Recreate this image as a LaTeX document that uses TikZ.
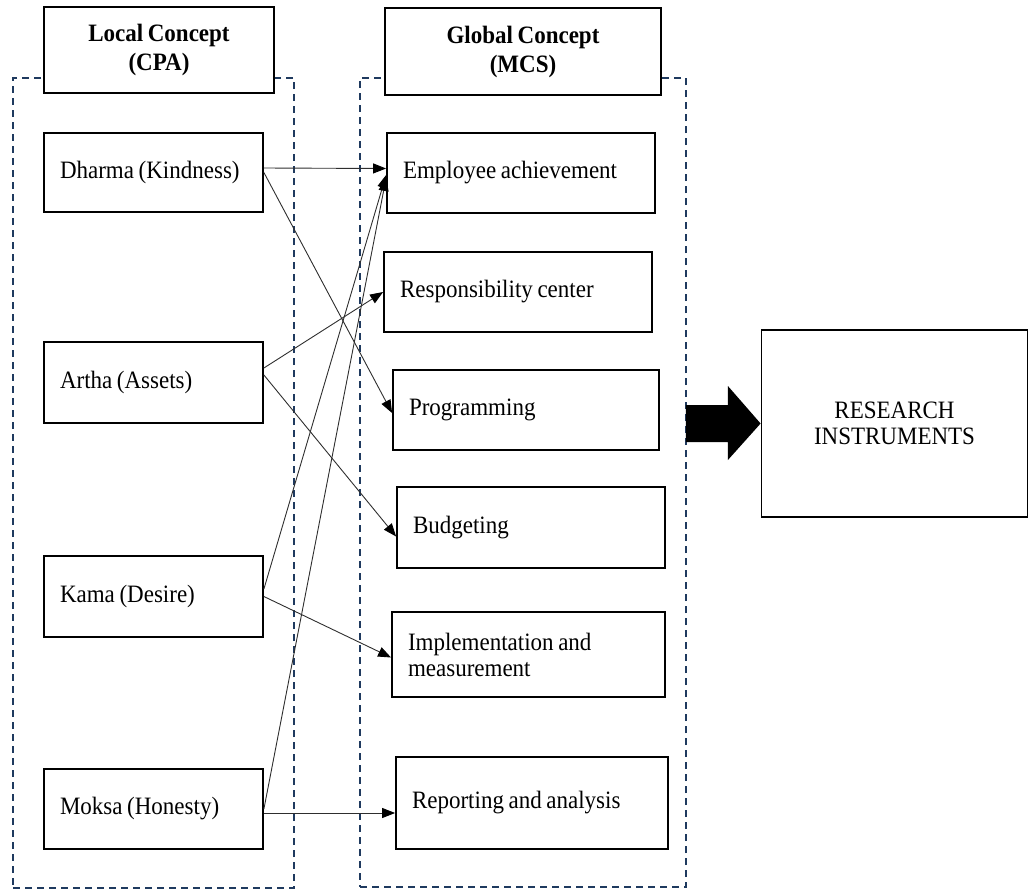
\documentclass[tikz,border=0pt]{standalone}
\usepackage{fontspec}
\setmainfont{Liberation Serif}[FakeStretch=0.92]
\usetikzlibrary{arrows.meta,calc}
\definecolor{dashnavy}{HTML}{1F3A5F}
\definecolor{linkgrey}{HTML}{2E2E2E}
\newcommand\narrowspace{\spaceskip=4.6pt\relax}
\begin{document}
\begin{tikzpicture}[x=1pt,y=-1pt,
  every node/.style={font=\fontsize{25}{26}\selectfont},
  container/.style={draw=dashnavy,line width=1.8pt,dash pattern=on 7pt off 5pt,inner sep=0pt},
  header/.style={draw,line width=1.8pt,fill=white,inner sep=0pt,align=center,font=\bfseries\fontsize{25}{29}\selectfont,execute at begin node=\narrowspace},
  itembox/.style={draw,line width=1.8pt,fill=white,inner xsep=16pt,inner ysep=0pt,align=left,execute at begin node=\narrowspace},
  link/.style={draw=linkgrey,line width=0.9pt,-{Triangle[length=13pt,width=10pt,color=black]}}]
\useasboundingbox (0,0) rectangle (1029,892);
% dashed containers
\node[container,minimum width=281pt,minimum height=810pt] (lc) at (153.5,483) {};
\node[container,minimum width=326pt,minimum height=809pt] (gc) at (523,482.5) {};
% headers
\node[header,minimum width=230pt,minimum height=86pt] (lh) at (159,50) {Local Concept\\(CPA)};
\node[header,minimum width=276pt,minimum height=87pt] (gh) at (523,51.5) {Global Concept\\(MCS)};
% local items
\node[itembox,text width=187pt,minimum height=79pt] (dh) at (153.5,172.5) {Dharma (Kindness)};
\node[itembox,text width=187pt,minimum height=81pt] (ar) at (153.5,382.5) {Artha (Assets)};
\node[itembox,text width=187pt,minimum height=81pt] (ka) at (153.5,596.5) {Kama (Desire)};
\node[itembox,text width=187pt,minimum height=80pt] (mo) at (153.5,809) {Moksa (Honesty)};
% global items
\node[itembox,text width=236pt,minimum height=80pt] (emp) at (521,173) {Employee achievement};
\node[itembox,text width=236pt,minimum height=80pt] (resp) at (518,292) {Responsibility center};
\node[itembox,text width=234pt,minimum height=80pt] (prog) at (526,410) {Programming};
\node[itembox,text width=236pt,minimum height=81pt] (bud) at (531,527.5) {Budgeting};
\node[itembox,text width=241pt,minimum height=85pt] (impl) at (528.5,654.5) {Implementation and\\measurement};
\node[itembox,text width=240pt,minimum height=92pt] (rep) at (532,803) {Reporting and analysis};
% research box
\node[draw,line width=1.8pt,inner sep=0pt,align=center,minimum width=266pt,minimum height=187pt] (res) at (894.5,423.5) {RESEARCH\\INSTRUMENTS};
% connectors
\draw[link] ([yshift=4.5pt]dh.east) -- ([yshift=4.5pt]emp.west);
\draw[link] (dh.east) -- ([yshift=-3pt]prog.west);
\draw[link] ([yshift=14.5pt]ar.east) -- (resp.west);
\draw[link] ([yshift=7.5pt]ar.east) -- ([yshift=-9pt]bud.west);
\draw[link] ([yshift=7.5pt]ka.east) -- ([yshift=-2pt]emp.west);
\draw[link] (ka.east) -- ([yshift=-3pt]impl.west);
\draw[link] (mo.east) -- ([yshift=-5pt]emp.west);
\coordinate (ms) at ([yshift=-4pt]mo.east);
\draw[link] (ms) -- (rep.west |- ms);
% big arrow
\coordinate (ba) at (gc.east |- res.west);
\fill ($(ba)+(-1,-18.5)$) -- ($(ba)+(41,-18.5)$) -- ($(ba)+(41,-37.5)$) -- (res.west)
  -- ($(ba)+(41,36.5)$) -- ($(ba)+(41,18.5)$) -- ($(ba)+(-1,18.5)$) -- cycle;
\end{tikzpicture}
\end{document}
